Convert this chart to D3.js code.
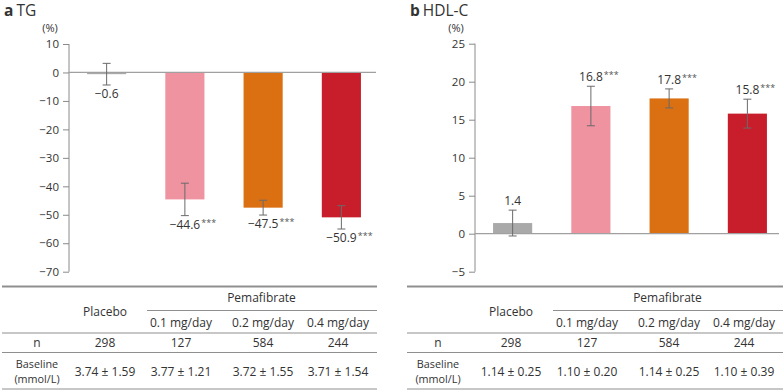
<!DOCTYPE html>
<html>
<head>
<meta charset="utf-8">
<script src="https://cdn.jsdelivr.net/npm/d3@7"></script>
<style>
  body { margin: 0; background: #fff; }
  svg text { font-family: "Open Sans", "Noto Sans", sans-serif; fill: #333; }
</style>
</head>
<body>
<div id="chart-container"></div>
<script>
// data
const groups = ["Placebo", "0.1 mg/day", "0.2 mg/day", "0.4 mg/day"];
const tgValues = [-0.6, -44.6, -47.5, -50.9];
const tgErrors = [3.8, 5.7, 2.6, 4.1];
const hdlValues = [1.4, 16.8, 17.8, 15.8];
const hdlErrors = [1.7, 2.6, 1.25, 1.9];
const sigMarks = ["", "***", "***", "***"];
const tgTicks = [10, 0, -10, -20, -30, -40, -50, -60, -70];
const hdlTicks = [25, 20, 15, 10, 5, 0, -5];
const nValues = [298, 127, 584, 244];
const tgBaseline = ["3.74 ± 1.59", "3.77 ± 1.21", "3.72 ± 1.55", "3.71 ± 1.54"];
const hdlBaseline = ["1.14 ± 0.25", "1.10 ± 0.20", "1.14 ± 0.25", "1.10 ± 0.39"];

const barColors = ["#a9a9a9", "#ef93a0", "#db7012", "#c81e2b"];
const axisColor = "#8a8a8a";
const minus = s => String(s).replace("-", "\u2212");

const svg = d3.select("#chart-container")
  .append("svg")
  .attr("width", 784)
  .attr("height", 392);

function drawPanel(opts) {
  const g = svg.append("g").attr("transform", `translate(${opts.dx},0)`);

  const y = d3.scaleLinear().domain(opts.domain).range(opts.yRange);
  const x = d3.scaleBand()
    .domain(groups)
    .range([67.5, 380.5])
    .paddingInner(0.5)
    .paddingOuter(0.25);

  // title
  const title = g.append("text").attr("x", opts.titleX).attr("y", 16).style("font-size", "15.5px");
  title.append("tspan").style("font-weight", "bold").text(opts.letter);
  title.append("tspan").attr("dx", 3).text(opts.title);

  g.append("text")
    .attr("x", 50).attr("y", 32)
    .attr("text-anchor", "middle")
    .style("font-size", "11px")
    .text("(%)");

  // axis
  const axis = g.append("g")
    .attr("transform", `translate(69,0)`)
    .call(d3.axisLeft(y).tickValues(opts.ticks).tickSize(6).tickPadding(4).tickFormat(minus));
  axis.select(".domain").attr("stroke", axisColor).attr("d", `M0,${y(opts.ticks[0])}V${y(opts.ticks[opts.ticks.length - 1])}`);
  axis.selectAll(".tick line").attr("stroke", axisColor);
  axis.selectAll(".tick text").style("font-size", "11.5px").attr("fill", "#333");

  // bars
  g.selectAll(".bar")
    .data(opts.values)
    .join("rect")
    .attr("x", (d, i) => x(groups[i]))
    .attr("width", x.bandwidth())
    .attr("y", d => Math.min(y(d), y(0)))
    .attr("height", d => Math.abs(y(d) - y(0)))
    .attr("fill", (d, i) => barColors[i]);

  // zero line
  g.append("line")
    .attr("x1", 69).attr("x2", opts.zeroEnd)
    .attr("y1", y(0)).attr("y2", y(0))
    .attr("stroke", "#a0a0a0").attr("stroke-width", 1.2);

  // error bars
  opts.values.forEach((v, i) => {
    const cx = x(groups[i]) + x.bandwidth() / 2;
    const top = y(v + opts.errors[i]), bot = y(v - opts.errors[i]);
    const eg = g.append("g").attr("stroke", "#6a6a6a").attr("stroke-width", 1);
    eg.append("line").attr("x1", cx).attr("x2", cx).attr("y1", top).attr("y2", bot);
    eg.append("line").attr("x1", cx - 4).attr("x2", cx + 4).attr("y1", top).attr("y2", top);
    eg.append("line").attr("x1", cx - 4).attr("x2", cx + 4).attr("y1", bot).attr("y2", bot);

    const below = v < 0;
    const ly = below ? bot + 13 : top - 5;
    const t = g.append("text")
      .attr("x", cx + (sigMarks[i] ? 8 : 0))
      .attr("y", ly)
      .attr("text-anchor", "middle")
      .style("font-size", "12px");
    t.append("tspan").text(minus(v.toFixed(1)));
    if (sigMarks[i]) {
      t.append("tspan").attr("dx", 1).attr("dy", -3).style("font-size", "9px").attr("fill", "#555").text(sigMarks[i]);
    }
  });

  // table
  const tb = g.append("g").style("font-size", "12px");
  const colX = [105, 181, 263, 338];
  const lx0 = opts.tableStart, lx1 = 377;
  const hline = (yy, x0, w) => tb.append("line")
    .attr("x1", x0).attr("x2", lx1).attr("y1", yy).attr("y2", yy)
    .attr("stroke", "#8f8f8f").attr("stroke-width", w);
  hline(286.5, lx0, 2);
  hline(310.5, 147, 1);
  hline(333, lx0, 1);
  hline(352.5, lx0, 1);
  hline(389, lx0, 1);

  tb.append("text").attr("x", colX[0]).attr("y", 316).attr("text-anchor", "middle").text(groups[0]);
  tb.append("text").attr("x", (colX[1] + colX[3]) / 2 + 2).attr("y", 302).attr("text-anchor", "middle").text("Pemafibrate");
  groups.slice(1).forEach((gname, i) => {
    tb.append("text").attr("x", colX[i + 1]).attr("y", 327).attr("text-anchor", "middle").text(gname);
  });
  tb.append("text").attr("x", opts.labelX).attr("y", 347).attr("text-anchor", "middle").text("n");
  nValues.forEach((n, i) => {
    tb.append("text").attr("x", colX[i]).attr("y", 347).attr("text-anchor", "middle").text(n);
  });
  tb.append("text").attr("x", opts.labelX).attr("y", 367.5).attr("text-anchor", "middle").style("font-size", "10.8px").text("Baseline");
  tb.append("text").attr("x", opts.labelX).attr("y", 382.5).attr("text-anchor", "middle").style("font-size", "10.8px").text("(mmol/L)");
  opts.baseline.forEach((b, i) => {
    tb.append("text").attr("x", colX[i]).attr("y", 376).attr("text-anchor", "middle").text(b);
  });
}

drawPanel({
  dx: 0, letter: "a", title: "TG", titleX: 4,
  domain: [10, -70], yRange: [44, 271.7], ticks: tgTicks,
  values: tgValues, errors: tgErrors, baseline: tgBaseline,
  zeroEnd: 376, tableStart: 2, labelX: 37
});

drawPanel({
  dx: 406, letter: "b", title: "HDL-C", titleX: 4,
  domain: [25, -5], yRange: [43.7, 271.7], ticks: hdlTicks,
  values: hdlValues, errors: hdlErrors, baseline: hdlBaseline,
  zeroEnd: 373, tableStart: 1, labelX: 32
});
</script>
</body>
</html>
